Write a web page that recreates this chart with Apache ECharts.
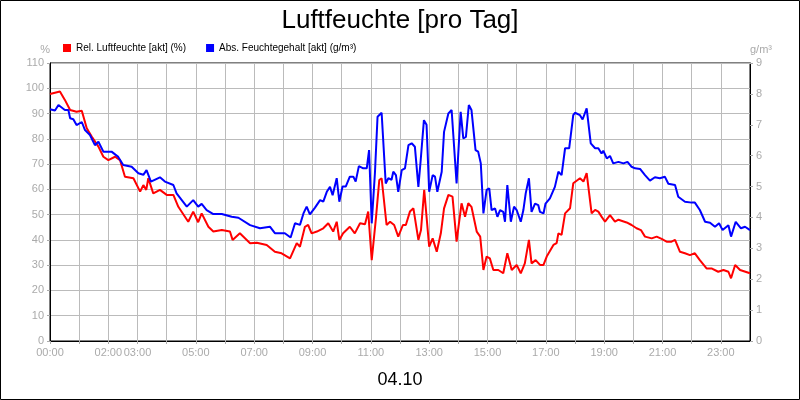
<!DOCTYPE html>
<html>
<head>
<meta charset="utf-8">
<script src="https://cdn.jsdelivr.net/npm/echarts@6/dist/echarts.min.js"></script>
<style>
  html, body { margin: 0; padding: 0; background: #fff; }
  #chart { width: 800px; height: 400px; }
</style>
</head>
<body>
<div id="chart"></div>
<script>
// Stunden (0-24) und Werte
const relHours = [0, 0.34, 0.51, 0.69, 0.91, 1.09, 1.26, 1.43, 1.66, 1.83, 2.0, 2.23, 2.4, 2.57, 2.86, 3.09, 3.2, 3.3, 3.37, 3.54, 3.77, 4.0, 4.23, 4.4, 4.74, 4.91, 5.08, 5.2, 5.43, 5.6, 5.89, 6.17, 6.26, 6.51, 6.86, 7.09, 7.43, 7.71, 7.94, 8.23, 8.46, 8.57, 8.74, 8.85, 8.97, 9.15, 9.37, 9.54, 9.71, 9.83, 9.92, 10.05, 10.28, 10.45, 10.63, 10.8, 10.91, 11.03, 11.18, 11.29, 11.37, 11.54, 11.66, 11.8, 11.94, 12.1, 12.2, 12.34, 12.46, 12.63, 12.72, 12.83, 13.0, 13.12, 13.26, 13.4, 13.51, 13.66, 13.8, 13.94, 14.11, 14.23, 14.34, 14.45, 14.63, 14.75, 14.86, 14.97, 15.08, 15.2, 15.37, 15.54, 15.68, 15.83, 16.0, 16.14, 16.28, 16.42, 16.51, 16.65, 16.8, 16.92, 17.03, 17.26, 17.37, 17.43, 17.54, 17.66, 17.83, 17.94, 18.09, 18.17, 18.29, 18.4, 18.46, 18.57, 18.69, 18.8, 18.91, 19.03, 19.2, 19.37, 19.49, 19.77, 19.94, 20.11, 20.26, 20.4, 20.63, 20.8, 20.97, 21.14, 21.31, 21.43, 21.6, 21.77, 21.94, 22.11, 22.28, 22.51, 22.68, 22.91, 23.09, 23.26, 23.35, 23.49, 23.66, 24.0];
const relValues = [97.7, 98.7, 95.4, 91.4, 90.7, 91.1, 84.2, 80.9, 76.9, 72.9, 71.6, 72.9, 71.6, 65.0, 64.4, 59.1, 61.7, 59.8, 64.4, 58.4, 59.8, 57.8, 57.8, 53.1, 47.2, 51.2, 47.0, 50.5, 45.2, 43.3, 43.9, 43.3, 40.0, 42.6, 38.7, 38.9, 38.0, 35.3, 34.7, 32.7, 38.7, 37.3, 45.2, 45.9, 42.6, 43.3, 44.6, 46.6, 43.3, 47.2, 40.0, 42.6, 45.2, 42.6, 46.6, 46.2, 51.2, 32.0, 49.2, 63.7, 64.4, 45.9, 47.2, 45.9, 41.3, 45.9, 45.9, 51.2, 52.5, 40.0, 43.9, 59.8, 37.3, 40.6, 35.3, 42.6, 52.5, 57.8, 57.1, 39.3, 54.5, 49.2, 54.5, 53.1, 43.3, 41.3, 28.1, 33.4, 32.7, 28.1, 28.1, 26.8, 34.7, 28.1, 30.1, 26.8, 30.7, 40.0, 30.7, 32.0, 30.1, 30.1, 33.4, 38.0, 38.7, 42.6, 42.0, 50.5, 52.5, 62.4, 63.7, 64.4, 63.1, 66.4, 65.7, 50.5, 51.9, 51.2, 49.2, 47.2, 49.8, 47.2, 48.0, 46.9, 45.9, 44.6, 43.9, 41.3, 40.6, 41.3, 40.4, 39.3, 39.3, 40.0, 35.3, 34.7, 34.0, 34.7, 32.0, 28.7, 28.7, 27.4, 28.1, 27.4, 24.8, 30.1, 28.1, 26.8];

const absHours = [0, 0.17, 0.29, 0.51, 0.63, 0.69, 0.8, 0.91, 1.09, 1.2, 1.37, 1.54, 1.66, 1.83, 2.11, 2.34, 2.51, 2.8, 3.03, 3.2, 3.31, 3.46, 3.77, 3.94, 4.23, 4.34, 4.69, 4.91, 5.08, 5.2, 5.37, 5.6, 5.89, 6.23, 6.46, 6.86, 7.2, 7.54, 7.71, 8.05, 8.25, 8.4, 8.57, 8.69, 8.8, 8.91, 9.08, 9.26, 9.37, 9.49, 9.6, 9.69, 9.83, 9.92, 10.03, 10.14, 10.28, 10.4, 10.48, 10.59, 10.74, 10.86, 10.94, 11.03, 11.14, 11.23, 11.37, 11.51, 11.6, 11.71, 11.77, 11.86, 11.94, 12.06, 12.17, 12.29, 12.4, 12.51, 12.63, 12.71, 12.82, 12.91, 13.0, 13.12, 13.2, 13.28, 13.43, 13.51, 13.66, 13.77, 13.83, 13.94, 14.08, 14.17, 14.26, 14.36, 14.45, 14.59, 14.68, 14.77, 14.86, 14.97, 15.06, 15.14, 15.26, 15.34, 15.43, 15.54, 15.6, 15.68, 15.8, 15.91, 16.0, 16.14, 16.23, 16.31, 16.42, 16.51, 16.63, 16.74, 16.8, 16.92, 16.99, 17.14, 17.31, 17.43, 17.54, 17.66, 17.8, 17.94, 18.0, 18.17, 18.26, 18.4, 18.46, 18.54, 18.69, 18.8, 18.91, 18.97, 19.09, 19.2, 19.31, 19.49, 19.66, 19.8, 19.94, 20.06, 20.23, 20.4, 20.57, 20.74, 20.91, 21.08, 21.2, 21.43, 21.54, 21.77, 22.0, 22.11, 22.28, 22.46, 22.63, 22.8, 22.94, 23.06, 23.26, 23.35, 23.51, 23.69, 23.83, 24.0];
const absValues = [7.50, 7.46, 7.64, 7.48, 7.48, 7.21, 7.18, 6.99, 7.09, 6.83, 6.67, 6.34, 6.45, 6.13, 6.13, 5.96, 5.70, 5.64, 5.43, 5.38, 5.53, 5.16, 5.30, 5.16, 5.05, 4.78, 4.35, 4.56, 4.35, 4.44, 4.24, 4.11, 4.11, 4.02, 3.99, 3.75, 3.65, 3.70, 3.49, 3.49, 3.35, 3.81, 3.76, 4.13, 4.35, 4.10, 4.31, 4.56, 4.51, 4.83, 4.99, 4.72, 5.27, 4.51, 5.00, 5.00, 5.32, 5.32, 5.16, 5.66, 5.59, 5.59, 6.18, 3.81, 5.43, 7.26, 7.39, 5.10, 5.27, 5.22, 5.48, 5.37, 4.83, 5.53, 5.59, 6.34, 6.40, 6.29, 4.99, 5.86, 7.15, 7.00, 4.83, 5.37, 5.32, 4.83, 5.48, 6.77, 7.37, 7.48, 7.42, 5.10, 7.42, 6.56, 6.61, 7.64, 7.48, 6.18, 6.13, 5.75, 4.13, 4.89, 4.94, 4.24, 4.29, 4.02, 4.24, 4.18, 3.86, 5.05, 3.86, 4.35, 4.24, 3.86, 4.24, 4.78, 5.27, 4.18, 4.45, 4.40, 4.18, 4.13, 4.45, 4.62, 4.99, 5.48, 5.37, 6.24, 6.24, 7.31, 7.39, 7.31, 7.17, 7.53, 7.53, 6.40, 6.24, 6.24, 6.07, 6.16, 5.91, 5.99, 5.75, 5.80, 5.75, 5.80, 5.64, 5.59, 5.57, 5.37, 5.19, 5.30, 5.27, 5.32, 5.09, 5.05, 4.67, 4.51, 4.48, 4.48, 4.24, 3.86, 3.83, 3.70, 3.81, 3.59, 3.75, 3.38, 3.86, 3.65, 3.70, 3.59];

const hourLabels = { 0: '00:00', 2: '02:00', 3: '03:00', 5: '05:00', 7: '07:00', 9: '09:00', 11: '11:00', 13: '13:00', 15: '15:00', 17: '17:00', 19: '19:00', 21: '21:00', 23: '23:00' };

const relData = relHours.map((h, i) => [h, relValues[i]]);
const absData = absHours.map((h, i) => [h, absValues[i]]);

const font = 'Liberation Sans, Arial, sans-serif';
const labelStyle = { color: '#aaa', fontSize: 11, fontFamily: font };

const myChart = echarts.init(document.getElementById('chart'));

const option = {
  animation: false,
  title: [
    { text: 'Luftfeuchte [pro Tag]', left: 'center', top: 3, textStyle: { fontFamily: font, fontSize: 26, fontWeight: 'normal', color: '#000' } },
    { text: '04.10', left: 'center', top: 366, textStyle: { fontFamily: font, fontSize: 18, fontWeight: 'normal', color: '#000' } }
  ],
  legend: {
    left: 58, top: 38, itemWidth: 8, itemHeight: 8, itemGap: 20, icon: 'rect',
    textStyle: { fontFamily: font, fontSize: 10, color: '#000' },
    data: ['Rel. Luftfeuchte [akt] (%)', 'Abs. Feuchtegehalt [akt] (g/m³)']
  },
  graphic: [{
    type: 'rect', shape: { x: 0.5, y: 0.5, width: 799, height: 399 },
    style: { fill: 'none', stroke: '#000', lineWidth: 1 }
  }],
  grid: { left: 50, right: 50, top: 63, bottom: 59, show: true, borderColor: '#000', borderWidth: 1 },
  xAxis: {
    type: 'value', min: 0, max: 24, interval: 1,
    axisLine: { lineStyle: { color: '#000' } },
    axisTick: { length: 3, lineStyle: { color: '#aaa' } },
    axisLabel: Object.assign({ formatter: v => hourLabels[v] || '', showMaxLabel: false, margin: 6 }, labelStyle),
    splitLine: { lineStyle: { color: '#bbb' } }
  },
  yAxis: [
    {
      type: 'value', min: 0, max: 110, interval: 10, name: '%', nameGap: 8,
      nameTextStyle: Object.assign({ align: 'right', padding: [0, 0, 0, 0] }, labelStyle),
      axisLine: { show: true, lineStyle: { color: '#000' } },
      axisTick: { show: true, length: 3, lineStyle: { color: '#aaa' } },
      axisLabel: Object.assign({ margin: 6 }, labelStyle),
      splitLine: { lineStyle: { color: '#bbb' } }
    },
    {
      type: 'value', min: 0, max: 9, interval: 1, name: 'g/m³', nameGap: 8, position: 'right',
      nameTextStyle: Object.assign({ align: 'left' }, labelStyle),
      axisLine: { show: true, lineStyle: { color: '#000' } },
      axisTick: { show: true, length: 3, lineStyle: { color: '#aaa' } },
      axisLabel: Object.assign({ margin: 6 }, labelStyle),
      splitLine: { show: false }
    }
  ],
  series: [
    { name: 'Rel. Luftfeuchte [akt] (%)', type: 'line', yAxisIndex: 0, data: relData, showSymbol: false, color: '#ff0000', lineStyle: { width: 2 } },
    { name: 'Abs. Feuchtegehalt [akt] (g/m³)', type: 'line', yAxisIndex: 1, data: absData, showSymbol: false, color: '#0000ff', lineStyle: { width: 2 } }
  ]
};

myChart.setOption(option);
</script>
</body>
</html>
